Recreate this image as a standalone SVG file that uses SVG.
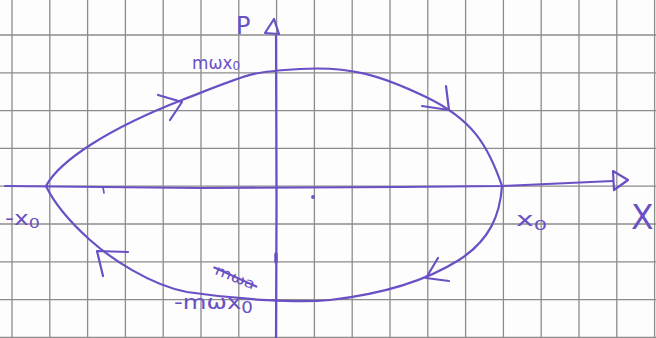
<svg xmlns="http://www.w3.org/2000/svg" width="656" height="338" viewBox="0 0 656 338">
<style>
.g{stroke:#8c8c8c;stroke-width:1.3;fill:none}
.p{stroke:#6a50c4;stroke-width:2.2;fill:none;stroke-linecap:round;stroke-linejoin:round}
.t{fill:#6a50c4;font-family:"DejaVu Sans","Liberation Sans",sans-serif}
</style>
<rect width="656" height="338" fill="#fdfdfd"/>
<g id="grid" class="g">
<path d="M12,0V338M49.8,0V338M87.6,0V338M125.4,0V338M163.2,0V338M201,0V338M238.8,0V338M276.6,0V338M314.4,0V338M352.2,0V338M390,0V338M427.8,0V338M465.6,0V338M503.4,0V338M541.2,0V338M579,0V338M616.8,0V338M654.6,0V338"/>
<path d="M0,35H656M0,72.8H656M0,110.6H656M0,148.4H656M0,186.2H656M0,224H656M0,261.8H656M0,299.6H656M0,337.4H656"/>
</g>
<g id="axes" class="p">
<path d="M5,186 L200,188 L400,187 L502,186 L613,181"/>
<path d="M613,171 L628,180 L614,190 Z"/>
<path d="M276,338 L276.5,200 L276,36"/>
<path d="M265,33 L274,19 L279,34 Z"/>
<path d="M103,187 L104,193" stroke-width="1.6"/>
<path d="M276,254 L276,262" stroke-width="3.5"/>
<circle cx="313" cy="197" r="0.8"/>
</g>
<g id="orbit" class="p">
<path d="M46,186 C60,160 110,128 182,100 S250,72 300,69 S380,75 426,97 S488,145 502,186"/>
<path d="M502,186 C500,215 490,240 459,260 C440,272 400,292 330,300 C300,303 240,300 187,292 C150,285 110,258 90,240 C70,222 55,205 46,186"/>
</g>
<g id="arrows" class="p">
<path d="M158,95 L182,102 L170,120"/>
<path d="M446,86 L449,110 L422,106"/>
<path d="M438,258 L426,278 L449,281"/>
<path d="M128,252 L97,251 L103,276"/>
</g>
<g id="labels">
<text class="t" x="236" y="34" font-size="24">P</text>
<text class="t" x="631" y="229" font-size="33">X</text>
<text class="t" x="192" y="69" font-size="17" textLength="48" lengthAdjust="spacingAndGlyphs">mωx<tspan font-size="12" dy="1">0</tspan></text>
<text class="t" x="5" y="225" font-size="20" textLength="35" lengthAdjust="spacingAndGlyphs">-x<tspan font-size="14" dy="3">0</tspan></text>
<text class="t" x="516" y="226" font-size="20" textLength="31" lengthAdjust="spacingAndGlyphs">x<tspan font-size="14" dy="4">0</tspan></text>
<text class="t" x="174" y="309" font-size="20" textLength="79" lengthAdjust="spacingAndGlyphs">-mωx<tspan font-size="15" dy="4">0</tspan></text>
<g transform="rotate(22 235 278)">
<text class="t" x="214" y="282" font-size="14" textLength="42" lengthAdjust="spacingAndGlyphs">mωa</text>
<path class="p" d="M212,276 L258,278" stroke-width="1.6"/>
</g>
</g>
</svg>
